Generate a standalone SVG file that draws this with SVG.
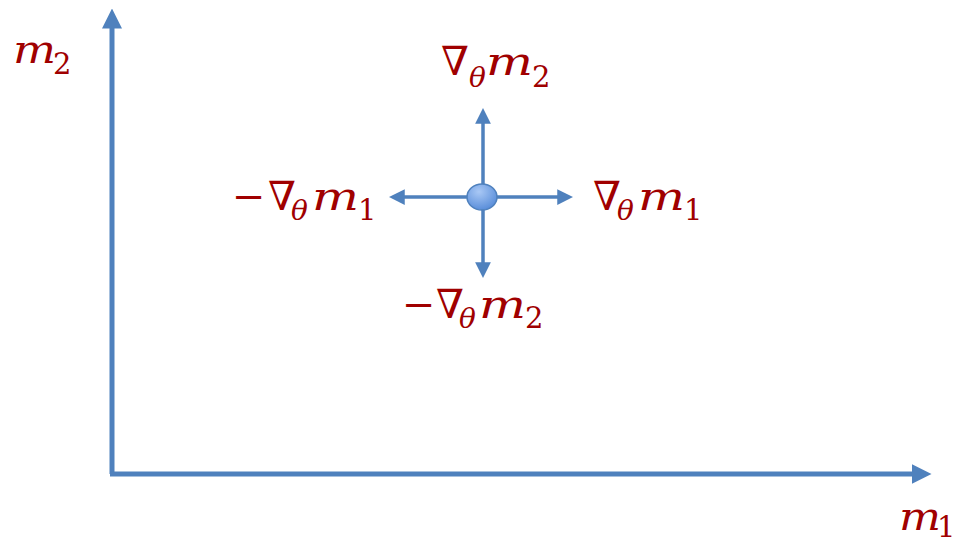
<svg xmlns="http://www.w3.org/2000/svg" width="964" height="544" viewBox="0 0 964 544">
<style>
.lbl{font-family:"DejaVu Serif","Liberation Serif",serif;fill:#a00000;font-size:40px}
.it{font-style:italic}
.sub{font-size:29px}
.th{font-size:28px}
.ax{stroke:#4f81bd;stroke-width:5;fill:none}
.vec{stroke:#4f81bd;stroke-width:3.5;fill:none}
</style>
<defs>
<marker id="ah" markerWidth="4" markerHeight="4" refX="0.5" refY="2" orient="auto" markerUnits="strokeWidth" viewBox="0 0 4 4">
<path d="M0,0 L4,2 L0,4 Z" fill="#4f81bd"/>
</marker>
<marker id="ah2" markerWidth="4.5" markerHeight="4.5" refX="0.5" refY="2.25" orient="auto" markerUnits="strokeWidth" viewBox="0 0 4.5 4.5">
<path d="M0,0 L4.5,2.25 L0,4.5 Z" fill="#4f81bd"/>
</marker>
<radialGradient id="bg" cx="0.4" cy="0.3" r="0.8">
<stop offset="0" stop-color="#a9c8f5"/>
<stop offset="1" stop-color="#4f86d6"/>
</radialGradient>
</defs>
<g id="connectors">
<path class="ax" d="M112,474 L112,26" marker-end="url(#ah)"/>
<path class="ax" d="M110,474 L914,474" marker-end="url(#ah)"/>
<path class="vec" d="M483,197 L483,122" marker-end="url(#ah2)"/>
<path class="vec" d="M483,197 L483,264" marker-end="url(#ah2)"/>
<path class="vec" d="M483,197 L403,197" marker-end="url(#ah2)"/>
<path class="vec" d="M483,197 L559,197" marker-end="url(#ah2)"/>
</g>
<g id="point">
<ellipse cx="482" cy="197" rx="15" ry="13" fill="url(#bg)" stroke="#4f81bd" stroke-width="1.5"/>
</g>
<g id="label-m2">
<text class="lbl"><tspan class="it" x="13" y="63" textLength="43" lengthAdjust="spacingAndGlyphs">m</tspan><tspan class="sub" x="53" y="74">2</tspan></text>
</g>
<g id="label-m1">
<text class="lbl"><tspan class="it" x="899" y="530" textLength="42" lengthAdjust="spacingAndGlyphs">m</tspan><tspan class="sub" x="937" y="537">1</tspan></text>
</g>
<g id="label-grad-m2">
<text class="lbl"><tspan x="441" y="75">∇</tspan><tspan class="it th" x="469" y="87">θ</tspan><tspan class="it" x="486" y="75" textLength="47" lengthAdjust="spacingAndGlyphs">m</tspan><tspan class="sub" x="532" y="87">2</tspan></text>
</g>
<g id="label-neg-grad-m2">
<text class="lbl"><tspan x="402" y="318">−</tspan><tspan x="436" y="318">∇</tspan><tspan class="it th" x="459" y="328">θ</tspan><tspan class="it" x="479" y="318" textLength="47" lengthAdjust="spacingAndGlyphs">m</tspan><tspan class="sub" x="525" y="328">2</tspan></text>
</g>
<g id="label-neg-grad-m1">
<text class="lbl"><tspan x="232" y="210">−</tspan><tspan x="268" y="210">∇</tspan><tspan class="it th" x="291" y="220">θ</tspan><tspan class="it" x="312" y="210" textLength="47" lengthAdjust="spacingAndGlyphs">m</tspan><tspan class="sub" x="358" y="220">1</tspan></text>
</g>
<g id="label-grad-m1">
<text class="lbl"><tspan x="593" y="210">∇</tspan><tspan class="it th" x="617" y="220">θ</tspan><tspan class="it" x="638" y="210" textLength="47" lengthAdjust="spacingAndGlyphs">m</tspan><tspan class="sub" x="684" y="220">1</tspan></text>
</g>
</svg>
